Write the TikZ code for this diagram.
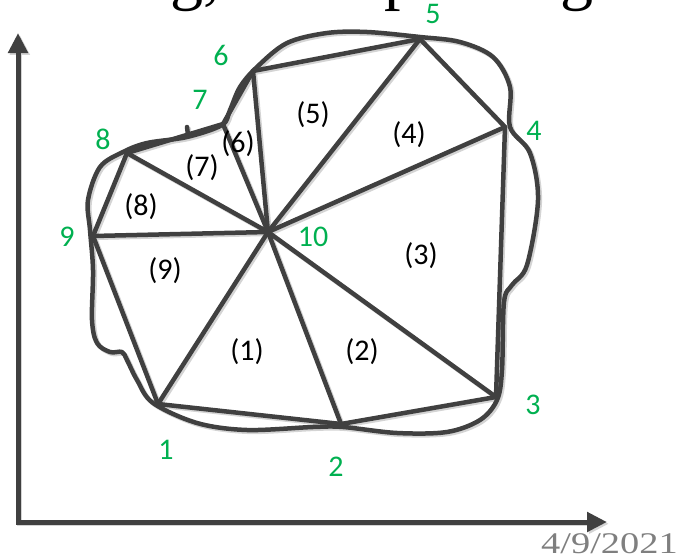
\documentclass[tikz,border=0pt]{standalone}
\usepackage{fontspec}
\setmainfont{Carlito}
\newfontfamily\serifdate{Liberation Serif}
\usetikzlibrary{arrows.meta}
\definecolor{edgegray}{HTML}{404040}
\definecolor{labgreen}{HTML}{00B050}
\definecolor{shadowgray}{HTML}{D4D4D4}
\definecolor{dategray}{HTML}{7F7F7F}
\colorlet{lc}{edgegray}
\newcommand\meshdrawing{%
  \draw[edge] (v1)--(v2)--(v3)--(v4)--(v5)--(v6)--(v7)--(v8)--(v9)--cycle;
  \foreach \i in {1,...,9} {\draw[edge] (v10)--(v\i);}
  \draw[edge] plot[smooth cycle, tension=0.55] coordinates {
    (153,403) (197,423) (247,430) (313,427) (343,427) (397,433) (447,432)
    (480,420) (497,400) (502,370) (504,302) (512,285) (527,265) (538,200)
    (530,153) (510,127) (510,87) (493,57) (460,42) (420,37) (367,32)
    (327,33) (287,43) (257,67) (240,87) (230,110) (222,125) (187,137)
    (147,143) (123,152) (100,167) (88,200) (90,230) (93,270) (92,320)
    (97,343) (110,352) (122,352) (127,360) (137,380)};
  \draw[edge] (tk1)--(tk2);
  \draw[axis] (ytip)--(o)--(xtip);
}
\begin{document}
\begin{tikzpicture}[x=1pt,y=-1pt,
  edge/.style={draw=lc, line width=4.5pt, line cap=round, line join=round},
  axis/.style={draw=lc, line width=5pt, line join=miter,
    {Triangle[length=20pt,width=19pt]}-{Triangle[length=20pt,width=19pt]}},
  vlabel/.style={text=labgreen, font=\fontsize{30}{32}\selectfont, inner sep=0pt},
  tlabel/.style={text=black, font=\fontsize{30}{32}\selectfont, inner sep=0pt},
  titlefrag/.style={font=\serifdate\fontsize{66}{70}\selectfont, inner sep=0pt, anchor=base west}
]
\useasboundingbox (0,0) rectangle (681,557);
% vertices
\coordinate (v1) at (158,404);
\coordinate (v2) at (341,424);
\coordinate (v3) at (496,397);
\coordinate (v4) at (505,127);
\coordinate (v5) at (420,39);
\coordinate (v6) at (253,71);
\coordinate (v7) at (223,124);
\coordinate (v8) at (127,153);
\coordinate (v9) at (93,236);
\coordinate (v10) at (268,232);
\coordinate (tk1) at (187,127);
\coordinate (tk2) at (188,135);
\coordinate (o) at (18,522);
\coordinate (ytip) at (18,33);
\coordinate (xtip) at (607,522);
% title fragments (cut off at the top)
\node[titlefrag] (t1) at (170,-3) {g,};
\node[titlefrag] (t2) at (384,-3) {p};
\node[titlefrag] (t3) at (560,-3) {g};
% shadow
\begin{scope}[transform canvas={shift={(1.8pt,-1.8pt)}}]
  \colorlet{lc}{shadowgray}
  \meshdrawing
\end{scope}
\meshdrawing
% vertex labels
\node[vlabel] (n1) at (166,450) {1};
\node[vlabel] (n2) at (336,467) {2};
\node[vlabel] (n3) at (533,405) {3};
\node[vlabel] (n4) at (534,131) {4};
\node[vlabel] (n5) at (433,14) {5};
\node[vlabel] (n6) at (221,55) {6};
\node[vlabel] (n7) at (200,100) {7};
\node[vlabel] (n8) at (103,139) {8};
\node[vlabel] (n9) at (67,237) {9};
\node[vlabel] (n10) at (313,237) {10};
% triangle labels
\node[tlabel] (f1) at (247,352) {(1)};
\node[tlabel] (f2) at (362,352) {(2)};
\node[tlabel] (f3) at (421,256) {(3)};
\node[tlabel] (f4) at (409,135) {(4)};
\node[tlabel] (f5) at (313,115) {(5)};
\node[tlabel] (f6) at (238,144) {(6)};
\node[tlabel] (f7) at (202,168) {(7)};
\node[tlabel] (f8) at (141,207) {(8)};
\node[tlabel] (f9) at (165,271) {(9)};
% date
\node[font=\serifdate\fontsize{30}{32}\selectfont, text=dategray, inner sep=0pt, anchor=base east, xscale=1.28] (date) at (678,553) {4/9/2021};
\end{tikzpicture}
\end{document}
